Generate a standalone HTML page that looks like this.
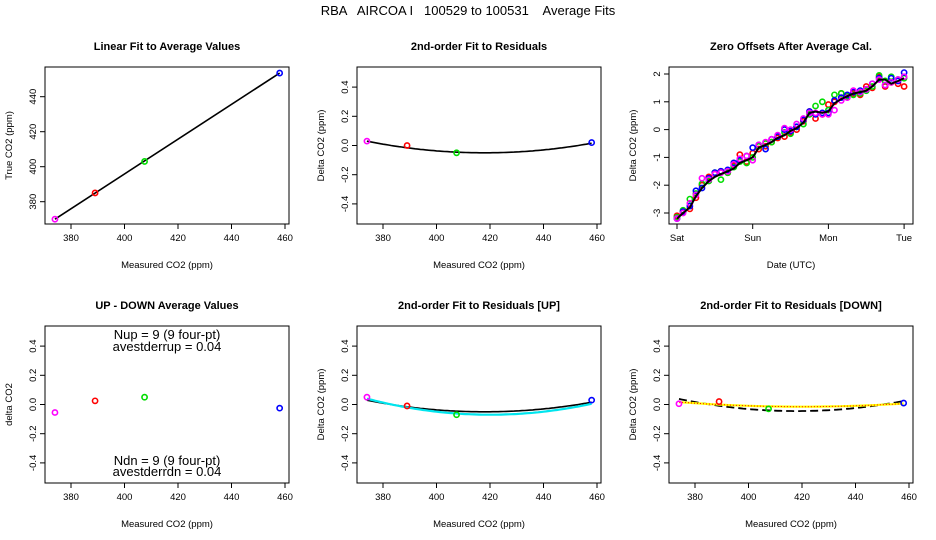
<!DOCTYPE html>
<html><head><meta charset="utf-8"><style>
body{margin:0;background:#fff}
svg{display:block;font-family:"Liberation Sans",Arial,sans-serif}
</style></head><body>
<svg id="s" width="936" height="540" viewBox="0 0 936 540" xmlns="http://www.w3.org/2000/svg">
<text x="468" y="15" text-anchor="middle" font-size="13" style="white-space:pre" xml:space="preserve">RBA   AIRCOA I   100529 to 100531    Average Fits</text>
</svg>
<script>
// ---- data ----
const calX=[374,389,407.5,458];
const calTrue=[370,385,403,453.5];
const calColors=['#ff00ff','#ff0000','#00dd00','#0000ff'];
const residAll=[0.03,0.0,-0.05,0.02];
const residUp=[0.05,-0.01,-0.07,0.03];
const residDown=[0.005,0.02,-0.03,0.01];
const upDown=[-0.055,0.025,0.05,-0.025];
const fitAll=[418,-0.05,4.1e-5];
const fitUp=[420,-0.07,5.2e-5];
const fitDown=[418,-0.045,4.3e-5];
const fitDownDotted=[420,-0.015,1.5e-5];
const xTicks=[380,400,420,440,460];
const residTicks=[-0.4,-0.2,0.0,0.2,0.4];
const trueTicks=[380,400,420,440];
const dayLabels=['Sat','Sun','Mon','Tue'];
const offTicks=[-3,-2,-1,0,1,2];
const tDays=[0,0.08,0.17,0.25,0.33,0.42,0.5,0.58,0.67,0.75,0.83,0.92,1.0,1.08,1.17,1.25,1.33,1.42,1.5,1.58,1.67,1.75,1.83,1.92,2.0,2.08,2.17,2.25,2.33,2.42,2.5,2.58,2.67,2.75,2.83,2.92,3.0];
const offMean=[-3.2,-3.0,-2.8,-2.4,-2.1,-1.85,-1.7,-1.6,-1.5,-1.4,-1.2,-1.1,-1.0,-0.65,-0.55,-0.45,-0.3,-0.2,-0.05,0.05,0.25,0.6,0.65,0.6,0.65,0.95,1.1,1.2,1.3,1.35,1.4,1.55,1.8,1.8,1.65,1.75,1.85];
const offRed=[-3.1,-2.95,-2.85,-2.45,-2.0,-1.7,-1.6,-1.5,-1.55,-1.3,-0.9,-1.15,-0.85,-0.7,-0.6,-0.45,-0.3,-0.25,-0.1,0.0,0.3,0.65,0.4,0.55,0.9,1.0,1.3,1.2,1.3,1.25,1.55,1.5,1.9,1.55,1.7,1.65,1.55];
const offGreen=[-3.15,-2.9,-2.5,-2.3,-1.95,-1.85,-1.55,-1.8,-1.55,-1.35,-1.15,-1.2,-1.0,-0.6,-0.5,-0.45,-0.25,-0.1,-0.15,0.1,0.2,0.55,0.85,1.0,0.7,1.25,1.3,1.2,1.25,1.3,1.4,1.55,1.95,1.75,1.9,1.8,1.85];
const offBlue=[-3.2,-2.95,-2.75,-2.2,-2.1,-1.75,-1.55,-1.5,-1.45,-1.2,-1.1,-0.95,-0.65,-0.55,-0.7,-0.35,-0.25,0.0,-0.05,0.1,0.35,0.65,0.55,0.6,0.6,1.05,1.15,1.25,1.35,1.4,1.45,1.65,1.85,1.6,1.85,1.75,2.05];
const offMag=[-3.2,-3.0,-2.65,-2.35,-1.75,-1.8,-1.6,-1.55,-1.5,-1.25,-1.05,-0.95,-1.1,-0.55,-0.45,-0.35,-0.2,0.05,0.0,0.2,0.4,0.6,0.6,0.55,0.55,0.7,1.05,1.15,1.4,1.35,1.45,1.65,1.8,1.6,1.7,1.8,1.9];

const svg=document.getElementById('s');
const NS='http://www.w3.org/2000/svg';
function mk(tag,at,parent){const e=document.createElementNS(NS,tag);for(const k in at)e.setAttribute(k,at[k]);(parent||svg).appendChild(e);return e;}
function txt(s,at,parent){const e=mk('text',at,parent);e.textContent=s;return e;}

function panel(name,ox,oy,title,xlab,ylab){
  const g=mk('g',{});
  
  
  const L=ox+45,R=ox+289,T=oy+67,B=oy+224;
  const r=mk('rect',{x:L,y:T,width:R-L,height:B-T,fill:'none',stroke:'#000','stroke-width':1},g);
  
  
  const t=txt(title,{x:(L+R)/2,y:oy+50,'text-anchor':'middle','font-size':11,'font-weight':'bold'},g);
  
  
  const xl=txt(xlab,{x:(L+R)/2,y:oy+268,'text-anchor':'middle','font-size':9.5},g);
  
  
  const yl=txt(ylab,{x:0,y:0,'text-anchor':'middle','font-size':9.5,transform:`translate(${ox+12},${(T+B)/2}) rotate(-90)`},g);
  
  
  return {g,L,R,T,B,ox,oy};
}
function xAxis(p,ticks,labels,sx){
  ticks.forEach((v,i)=>{const x=sx(v);
    mk('line',{x1:x,x2:x,y1:p.B,y2:p.B+5,stroke:'#000'},p.g);
    const t=txt(labels?labels[i]:String(v),{x:x,y:p.B+17,'text-anchor':'middle','font-size':9.5},p.g);
    
    });
  mk('line',{x1:sx(ticks[0]),x2:sx(ticks[ticks.length-1]),y1:p.B,y2:p.B,stroke:'#000'},p.g);
}
function yAxis(p,ticks,sy,fmt){
  ticks.forEach(v=>{const y=sy(v);
    mk('line',{x1:p.L-5,x2:p.L,y1:y,y2:y,stroke:'#000'},p.g);
    const t=txt(fmt(v),{x:0,y:0,'text-anchor':'middle','font-size':9.5,transform:`translate(${p.L-9},${y}) rotate(-90)`},p.g);
    
    });
}
function pt(p,x,y,c){const e=mk('circle',{cx:x,cy:y,r:2.6,fill:'none',stroke:c,'stroke-width':1.6},p.g);
  
  }
function curve(p,fit,sx,sy,col,w,dash){
  let d='';for(let v=374;v<=458;v+=1){const yv=fit[1]+fit[2]*(v-fit[0])*(v-fit[0]);d+=(d?'L':'M')+sx(v).toFixed(1)+','+sy(yv).toFixed(1);}
  const e=mk('path',{d,fill:'none',stroke:col,'stroke-width':w,'stroke-dasharray':dash||'none'},p.g);
  
  
}
const f1=v=>v.toFixed(1);
const mkSx=ox=>v=>ox+71+(v-380)*2.675;
const mkSy=oy=>v=>oy+145.5-v*146;

// Panel 1
{const p=panel('linear-fit-panel',0,0,'Linear Fit to Average Values','Measured CO2 (ppm)','True CO2 (ppm)');
 const sx=mkSx(0),sy=v=>96.7+(440-v)*1.75;
 xAxis(p,xTicks,null,sx);yAxis(p,trueTicks,sy,v=>String(v));
 const l=mk('line',{x1:sx(calX[0]),y1:sy(calTrue[0]),x2:sx(calX[3]),y2:sy(calTrue[3]),stroke:'#000','stroke-width':1.6},p.g);
 
 
 calX.forEach((x,i)=>pt(p,sx(x),sy(calTrue[i]),calColors[i]));}
// Panel 2
{const p=panel('residual-fit-panel',312,0,'2nd-order Fit to Residuals','Measured CO2 (ppm)','Delta CO2 (ppm)');
 const sx=mkSx(312),sy=mkSy(0);
 xAxis(p,xTicks,null,sx);yAxis(p,residTicks,sy,f1);
 curve(p,fitAll,sx,sy,'#000',1.6);
 calX.forEach((x,i)=>pt(p,sx(x),sy(residAll[i]),calColors[i]));}
// Panel 3
{const p=panel('zero-offsets-panel',624,0,'Zero Offsets After Average Cal.','Date (UTC)','Delta CO2 (ppm)');
 const sx=v=>677+v*75.7,sy=v=>74+(2-v)*27.8;
 xAxis(p,[0,1,2,3],dayLabels,sx);yAxis(p,offTicks,sy,v=>String(v));
 [[offRed,'#ff0000'],[offGreen,'#00dd00'],[offBlue,'#0000ff'],[offMag,'#ff00ff']].forEach(([arr,c])=>arr.forEach((v,i)=>pt(p,sx(tDays[i]),sy(v),c)));
 const d=offMean.map((v,i)=>(i?'L':'M')+sx(tDays[i]).toFixed(1)+','+sy(v).toFixed(1)).join('');
 const e=mk('path',{d,fill:'none',stroke:'#000','stroke-width':2},p.g);
 
 }
// Panel 4
{const p=panel('up-down-panel',0,259,'UP - DOWN Average Values','Measured CO2 (ppm)','delta CO2');
 const sx=mkSx(0),sy=mkSy(259);
 xAxis(p,xTicks,null,sx);yAxis(p,residTicks,sy,f1);
 calX.forEach((x,i)=>pt(p,sx(x),sy(upDown[i]),calColors[i]));
 [['Nup = 9 (9 four-pt)',339],['avestderrup =  0.04',351],['Ndn = 9 (9 four-pt)',465],['avestderrdn =  0.04',476]].forEach(([s,y])=>{
  const t=txt(s,{x:167,y:y,'text-anchor':'middle','font-size':13},p.g);
  
  });}
// Panel 5
{const p=panel('residual-up-panel',312,259,'2nd-order Fit to Residuals [UP]','Measured CO2 (ppm)','Delta CO2 (ppm)');
 const sx=mkSx(312),sy=mkSy(259);
 xAxis(p,xTicks,null,sx);yAxis(p,residTicks,sy,f1);
 curve(p,fitAll,sx,sy,'#000',1.6);
 curve(p,fitUp,sx,sy,'#00e5ee',2.2);
 calX.forEach((x,i)=>pt(p,sx(x),sy(residUp[i]),calColors[i]));}
// Panel 6
{const p=panel('residual-down-panel',624,259,'2nd-order Fit to Residuals [DOWN]','Measured CO2 (ppm)','Delta CO2 (ppm)');
 const sx=mkSx(624),sy=mkSy(259);
 xAxis(p,xTicks,null,sx);yAxis(p,residTicks,sy,f1);
 curve(p,fitDown,sx,sy,'#000',1.8,'8,4');
 curve(p,fitDownDotted,sx,sy,'#ffff00',2.2);
 curve(p,fitDownDotted,sx,sy,'#ff0000',1,'1,2');
 calX.forEach((x,i)=>pt(p,sx(x),sy(residDown[i]),calColors[i]));}
</script>
</body></html>
